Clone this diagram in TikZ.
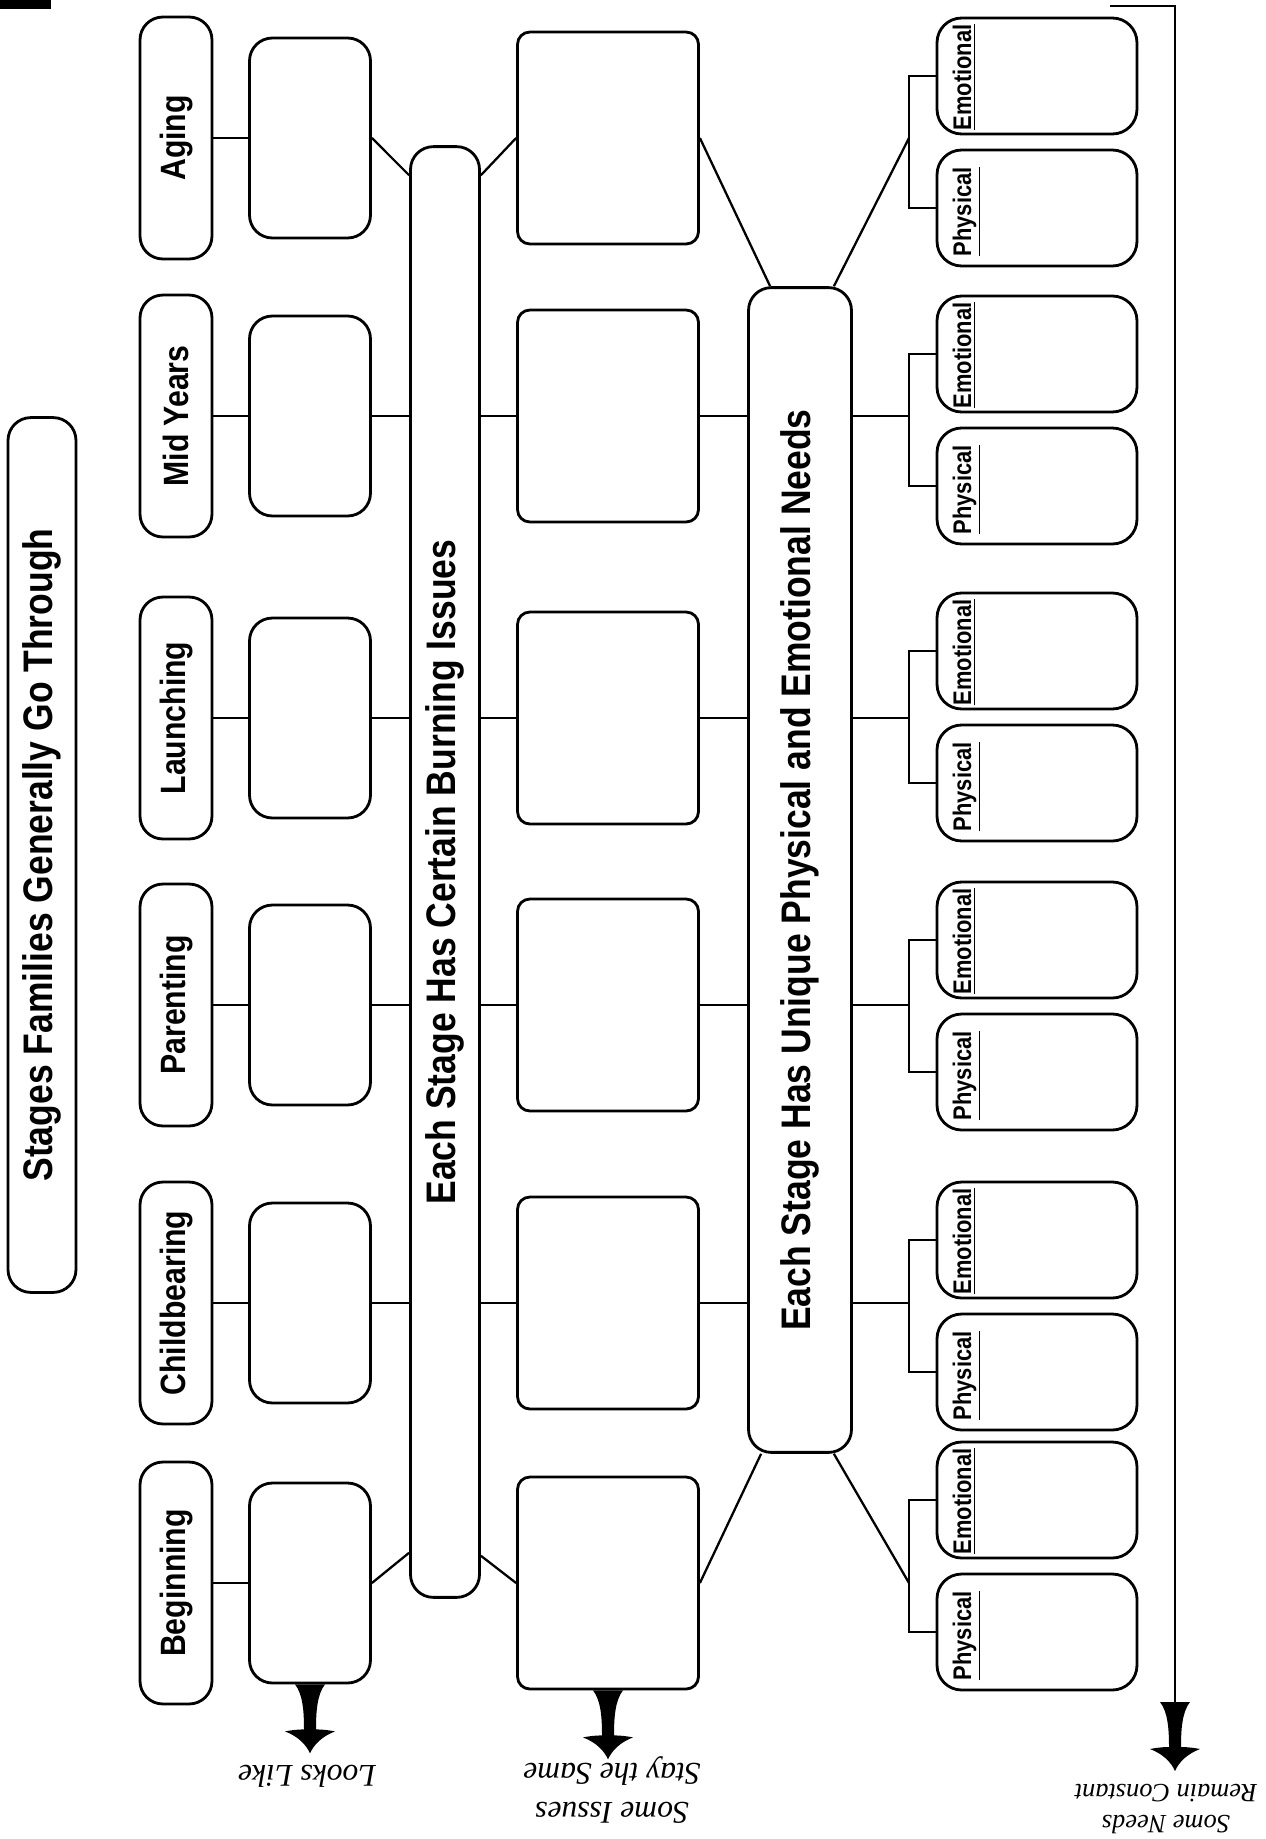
\documentclass[tikz,border=0pt]{standalone}
\usepackage{fontspec}
\usepackage{tikz}
\usetikzlibrary{calc}
\newfontfamily\headfont[FakeStretch=0.86]{Liberation Sans}
\newfontfamily\lblfont{Liberation Serif}
\tikzset{
  fatarr/.pic={\fill (-15,0) .. controls (-7,10) and (-6,28) .. (-6,45)
    .. controls (-13,45) and (-20,46) .. (-25,47) .. controls (-12,52) and (-4,60) .. (0,69)
    .. controls (4,60) and (12,52) .. (25,47) .. controls (20,46) and (13,45) .. (6,45)
    .. controls (6,28) and (7,10) .. (15,0) -- cycle;}
}

\begin{document}
\begin{tikzpicture}[x=0.02cm,y=-0.02cm,line width=1.3pt,
  box/.style={draw,line width=1.6pt,rounded corners=13pt,inner sep=0pt},
  stagebox/.style={box,minimum width=1.44cm,minimum height=4.84cm,font=\headfont\bfseries\fontsize{20}{24}\selectfont},
  lookbox/.style={box,minimum width=2.42cm,minimum height=4cm},
  issuebox/.style={box,rounded corners=7pt,minimum width=3.62cm,minimum height=4.24cm},
  needbox/.style={box,rounded corners=14pt,minimum width=4cm,minimum height=2.32cm},
  tallbox/.style={box,font=\headfont\bfseries\fontsize{23.5}{28}\selectfont},
  needlbl/.style={anchor=south west,inner sep=0pt,font=\headfont\bfseries\fontsize{14.5}{17}\selectfont},
  lbl/.style={rotate=180,align=center,font=\lblfont\itshape\fontsize{18}{22.5}\selectfont}]
  \useasboundingbox (0,0) rectangle (1265,1839);
  \fill (0,0) rectangle (51,9);
  % the three long boxes
  \node[tallbox,minimum width=1.36cm,minimum height=17.5cm] (stages) at (42,855)
    {\rotatebox{90}{Stages Families Generally Go Through}};
  \node[tallbox,minimum width=1.38cm,minimum height=29.02cm] (issues) at (445,872)
    {\rotatebox{90}{Each Stage Has Certain Burning Issues}};
  \node[tallbox,minimum width=2.06cm,minimum height=23.3cm] (needs) at (800,870)
    {\rotatebox{90}{Each Stage Has Unique Physical and Emotional Needs}};
  % one row per stage
  \foreach \name/\yy/\pp [count=\i] in {Aging/138/142,Mid Years/416/420,Launching/718/717,
      Parenting/1005/1006,Childbearing/1303/1306,Beginning/1583/1566}{
    \node[stagebox] (st\i) at (176,\yy) {\rotatebox{90}{\name}};
    \node[lookbox] (lk\i) at (310,\yy) {};
    \node[issuebox] (is\i) at (608,\yy) {};
    \node[needbox] (em\i) at (1037,\pp-66) {};
    \node[needbox] (ph\i) at (1037,\pp+66) {};
    \node[needlbl] at ($(em\i.south west)+(16,-4)$) {\rotatebox{90}{\underline{Emotional}}};
    \node[needlbl] at ($(ph\i.south west)+(16,-10)$) {\rotatebox{90}{\underline{Physical}}};
    \coordinate (br\i) at (909,\yy);
    \draw (st\i) -- (lk\i);
    \draw (em\i.west) -| (br\i) |- (ph\i.west);
  }
  \foreach \i in {2,...,5}{
    \draw (lk\i) -- (lk\i -| issues.west);
    \draw (issues.east |- is\i) -- (is\i);
    \draw (is\i) -- (is\i -| needs.west);
    \draw (is\i -| needs.east) -- (br\i);
  }
  % first and last stage go in at a slant
  \draw (lk1.east) -- ($(issues.north west)+(0,30)$);
  \draw ($(issues.north east)+(0,30)$) -- (is1.west);
  \draw (is1.east) -- ($(needs.north west)+(23,0)$);
  \draw ($(needs.north east)+(-19,0)$) -- (br1);
  \draw (lk6.east) -- ($(issues.south west)+(0,-46)$);
  \draw ($(issues.south east)+(0,-43)$) -- (is6.west);
  \draw (is6.east) -- ($(needs.south west)+(14,0)$);
  \draw ($(needs.south east)+(-19,0)$) -- (br6);
  % arrows and their labels
  \pic at (lk6.south) {fatarr};
  \pic at (is6.south) {fatarr};
  \coordinate (nt) at (1110,6);
  \coordinate (nb) at (1175,1702);
  \draw (nt) -| (nb);
  \pic at (nb) {fatarr};
  \node[lbl] (lookslbl) at (307,1776) {Looks Like};
  \node[lbl] (issueslbl) at (612,1790) {Some Issues\\Stay the Same};
  \node[lbl,font=\lblfont\itshape\fontsize{15}{18}\selectfont] (needslbl) at (1166,1809) {Some Needs\\Remain Constant};
\end{tikzpicture}
\end{document}
